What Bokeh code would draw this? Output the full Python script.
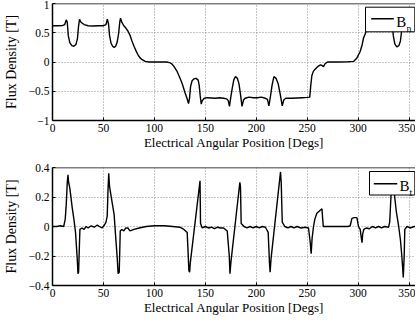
from bokeh.plotting import figure
from bokeh.layouts import column
from bokeh.models import (Range1d, FixedTicker, CustomJSTickFormatter,
                          BoxAnnotation, Label, Arrow, Span)
from bokeh.embed import file_html
from bokeh.resources import INLINE

# ---------------- data ----------------
bn_deg = [0, 5, 10, 12, 13.5, 14.5, 15.5, 17, 19, 21, 23, 24.5, 25.5, 26.5, 28, 31, 35, 40, 45, 50,
          52.5, 53.8, 55, 56, 57.5, 59, 60.5, 62, 63.5, 65, 66, 66.8, 68, 70, 72, 74, 76, 78, 80, 82,
          84, 86, 88, 91, 95, 105, 112, 115, 117, 119, 122, 125, 127.5, 130, 132, 133.5, 134.5, 135.5,
          137, 139, 141, 143, 144, 145, 146, 147, 149, 152, 156, 160, 164, 168, 171, 172.5, 173.7,
          175, 176.4, 178, 179.6, 181.5, 183, 184.5, 186, 187.5, 189, 193, 197, 201, 205, 209, 211,
          212.4, 214, 215.5, 217.3, 219.5, 221.5, 223.5, 225.5, 227, 229, 235, 240, 245, 250, 252.5,
          253.5, 254.6, 256, 258, 261, 263, 264.5, 266, 267.5, 270, 280, 290, 295.5, 298.8, 302, 304,
          305.3, 308.6, 311, 315, 325, 331, 332.5, 333.5, 334.5, 336, 338, 340, 341.5, 342.5, 343.5,
          344.5, 346, 349, 353, 360]
bn_val = [0.62, 0.62, 0.625, 0.64, 0.72, 0.68, 0.45, 0.33, 0.28, 0.27, 0.30, 0.40, 0.60, 0.73, 0.68,
          0.64, 0.62, 0.615, 0.62, 0.62, 0.64, 0.73, 0.65, 0.45, 0.32, 0.27, 0.25, 0.27, 0.34, 0.50,
          0.68, 0.75, 0.68, 0.62, 0.58, 0.53, 0.46, 0.36, 0.27, 0.19, 0.12, 0.07, 0.04, 0.01, 0.0, 0.0,
          0.0, -0.01, -0.03, -0.07, -0.15, -0.27, -0.38, -0.52, -0.62, -0.71, -0.62, -0.42, -0.32,
          -0.285, -0.28, -0.31, -0.40, -0.58, -0.72, -0.66, -0.62, -0.61, -0.615, -0.62, -0.61, -0.62,
          -0.63, -0.66, -0.76, -0.60, -0.45, -0.30, -0.25, -0.28, -0.37, -0.55, -0.76, -0.65, -0.62,
          -0.60, -0.61, -0.61, -0.60, -0.62, -0.64, -0.75, -0.58, -0.40, -0.25, -0.28, -0.37, -0.55,
          -0.75, -0.65, -0.62, -0.62, -0.615, -0.61, -0.605, -0.60, -0.40, -0.23, -0.16, -0.12, -0.07,
          -0.05, -0.06, -0.08, -0.03, 0.0, 0.0, 0.005, 0.01, 0.07, 0.18, 0.30, 0.41, 0.55, 0.60, 0.62,
          0.62, 0.64, 0.72, 0.66, 0.45, 0.31, 0.26, 0.28, 0.36, 0.50, 0.68, 0.74, 0.68, 0.64, 0.62, 0.62]

bt_deg = [0, 4, 8, 11, 12.5, 13.5, 14.5, 15.2, 15.8, 17, 19.3, 21, 22.6, 24.2, 25, 25.6, 26.9, 29, 31,
          33, 35, 38, 41, 44, 46, 48.5, 51, 52.5, 53.7, 54.5, 55.2, 56, 58.6, 60.5, 61.8, 63.5, 64.4,
          65.5, 66.5, 68, 70, 72, 74, 76, 80, 85, 92, 100, 110, 118, 125, 129, 132.2, 133.9, 134.6,
          135.2, 144.3, 144.8, 145.3, 147, 150, 153, 156, 159, 162, 165, 168, 171.5, 173.5, 174.2, 175,
          183.9, 184.5, 185.2, 188, 191, 194, 197, 200, 203, 206, 209, 211.7, 213, 213.6, 214.5, 223.8,
          224.5, 225.5, 228, 231, 234, 237, 240, 244, 248, 251.3, 253, 253.9, 254.8, 256.2, 257.5,
          259.5, 262.8, 264.5, 265.2, 265.8, 270, 280, 290, 292.2, 293.9, 296, 298.8, 300.3, 302, 303.2,
          303.8, 304.5, 305.6, 308, 311, 314, 317, 320, 323, 326, 329.8, 331, 332.2, 333.1, 334, 335.7,
          337.5, 339.6, 341.5, 343, 344.3, 345.2, 345.8, 348, 351, 355, 360]
bt_val = [0.0, 0.0, 0.005, 0.0, 0.05, 0.15, 0.30, 0.35, 0.30, 0.26, 0.13, 0.05, -0.04, -0.21, -0.32,
          -0.31, -0.02, -0.01, -0.02, 0.0, -0.01, 0.005, -0.005, 0.01, 0.0, -0.01, 0.01, 0.03, 0.07,
          0.25, 0.36, 0.27, 0.16, 0.08, -0.05, -0.21, -0.32, -0.31, -0.03, -0.02, -0.03, -0.01, -0.01,
          -0.03, -0.02, -0.01, 0.0, 0.005, 0.005, 0.0, -0.005, -0.02, -0.04, -0.30, -0.31, -0.25, 0.28,
          0.31, 0.02, -0.01, 0.0, -0.01, -0.005, -0.015, -0.005, -0.01, -0.01, -0.03, -0.20, -0.32,
          -0.25, 0.30, 0.27, 0.02, 0.0, -0.01, 0.0, -0.01, 0.0, -0.01, 0.0, -0.005, -0.04, -0.25, -0.31,
          -0.22, 0.37, 0.30, 0.03, 0.0, -0.01, 0.0, -0.01, 0.0, -0.01, -0.005, -0.01, -0.11, -0.185,
          -0.08, 0.0, 0.05, 0.09, 0.11, 0.12, 0.05, 0.0, 0.0, 0.0, 0.0, 0.005, 0.055, 0.06, 0.06, 0.0,
          -0.02, -0.08, -0.11, -0.05, -0.02, -0.01, -0.015, 0.0, -0.01, 0.0, -0.01, 0.0, -0.005, 0.03,
          0.20, 0.35, 0.30, 0.21, 0.10, 0.01, -0.09, -0.21, -0.345, -0.20, -0.02, 0.0, -0.01, 0.0, 0.0]

x_ticks = [0, 50, 100, 150, 200, 250, 300, 350]
bn_ticks = [-1, -0.5, 0, 0.5, 1]
bt_ticks = [-0.4, -0.2, 0, 0.2, 0.4]
x_label = "Electrical Angular Position [Degs]"
y_label = "Flux Density [T]"
names = ["B", "B"]
subs = ["n", "t"]

# ---------------- styling ----------------
FONT = "Liberation Serif"
FW = 363
X_END = 356.3
fmt = CustomJSTickFormatter(code="return tick < 0 ? '\\u2212' + (-tick) : '' + tick;")


def make_fig(yr, yticks, fh, top_border, bottom_border):
    p = figure(frame_width=FW, frame_height=fh,
               x_range=Range1d(0, X_END), y_range=Range1d(*yr),
               output_backend="svg", toolbar_location=None,
               min_border_left=47, min_border_right=0,
               min_border_top=top_border, min_border_bottom=bottom_border,
               background_fill_color="white", border_fill_color="white",
               outline_line_color=None)
    for ax in (p.xaxis[0], p.yaxis[0]):
        ax.axis_line_color = "black"
        ax.axis_line_width = 1.5
        ax.major_tick_line_color = "black"
        ax.major_tick_in = 3
        ax.major_tick_out = 0
        ax.minor_tick_line_color = None
        ax.major_label_text_font = FONT
        ax.major_label_text_font_size = "11.5px"
        ax.major_label_text_color = "black"
        ax.axis_label_text_font = FONT
        ax.axis_label_text_font_style = "normal"
        ax.axis_label_text_color = "black"
    p.xaxis.ticker = FixedTicker(ticks=x_ticks)
    p.yaxis.ticker = FixedTicker(ticks=yticks)
    p.yaxis.formatter = fmt
    p.xaxis.axis_label = x_label
    p.xaxis.axis_label_text_font_size = "13px"
    p.xaxis.major_label_standoff = 3
    p.xaxis.axis_label_standoff = 0
    p.yaxis.axis_label = y_label
    p.yaxis.axis_label_text_font_size = "14px"
    p.yaxis.major_label_standoff = 3
    p.yaxis.axis_label_standoff = 7

    # top border of the box
    p.add_layout(Span(location=yr[1], dimension="width", line_color="black", line_width=1.5))

    p.xgrid.ticker = FixedTicker(ticks=x_ticks)
    p.ygrid.ticker = FixedTicker(ticks=yticks)
    for g in (p.xgrid[0], p.ygrid[0]):
        g.grid_line_color = "#8c8c8c"
        g.grid_line_dash = "1 2"
        g.grid_line_width = 1
    return p


def add_legend(p, yr, fh, name, sub, box, seg, btxt, stxt):
    sx = FW / X_END
    sy = fh / (yr[1] - yr[0])
    X = lambda d: X_END - d / sx
    Y = lambda d: yr[1] - d / sy
    p.add_layout(BoxAnnotation(left=X(box[0]), right=X(box[1]), top=Y(box[2]), bottom=Y(box[3]),
                               fill_color="white", fill_alpha=1.0, line_color="black",
                               line_alpha=1.0, line_width=1))
    p.add_layout(Arrow(end=None, x_start=X(seg[0]), x_end=X(seg[1]), y_start=Y(seg[2]),
                       y_end=Y(seg[2]), line_color="black", line_width=1.5, level="overlay"))
    p.add_layout(Label(x=X(btxt[0]), y=Y(btxt[1]), text=name, text_font=FONT,
                       text_font_size="15px", text_color="black", text_align="left",
                       text_baseline="alphabetic", level="overlay"))
    p.add_layout(Label(x=X(stxt[0]), y=Y(stxt[1]), text=sub, text_font=FONT,
                       text_font_size="10px", text_color="black", text_align="left",
                       text_baseline="alphabetic", level="overlay"))


FH1, FH2 = 117, 118
p1 = make_fig((-1, 1), bn_ticks, FH1, 3, 40)
p1.line(bn_deg, bn_val, line_color="black", line_width=1.4)
add_legend(p1, (-1, 1), FH1, names[0], subs[0], (50, 0.7, 3.7, 28.3), (44.3, 21.7, 15.3),
           (19.3, 18.7), (9, 25.3))

p2 = make_fig((-0.4, 0.4), bt_ticks, FH2, 7, 31)
p2.line(bt_deg, bt_val, line_color="black", line_width=1.4)
add_legend(p2, (-0.4, 0.4), FH2, names[1], subs[1], (46, 0.7, 4, 27.5), (41.7, 18.3, 16.3),
           (16, 18), (6, 25))

layout = column(p1, p2, spacing=0)
open("out.html", "w").write(file_html(layout, INLINE))
